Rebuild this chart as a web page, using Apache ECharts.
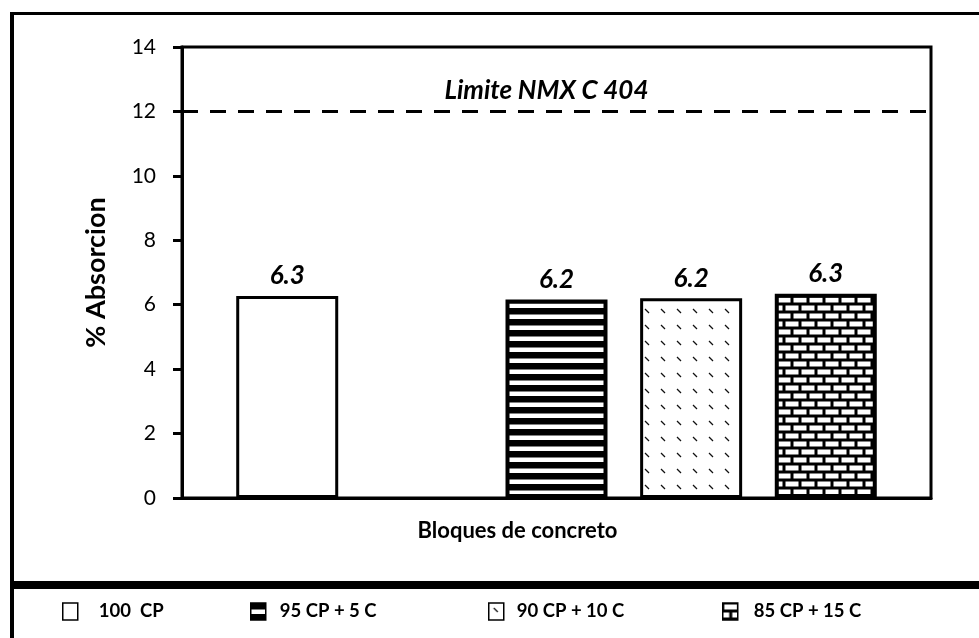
<!DOCTYPE html>
<html>
<head>
<meta charset="utf-8">
<script src="https://cdn.jsdelivr.net/npm/echarts@6/dist/echarts.min.js"></script>
<style>
html,body{margin:0;padding:0;background:#fff;}
#chart{width:979px;height:638px;}
</style>
</head>
<body>
<div id="chart"></div>
<script>
// ---- data ----
const categories = ['Bloques de concreto'];
const seriesNames = ['100  CP', 'vacío', '95 CP + 5 C', '90 CP + 10 C', '85 CP + 15 C'];
const legendNames = ['100  CP', '95 CP + 5 C', '90 CP + 10 C', '85 CP + 15 C'];
const valuesCP100 = [6.27];
const valuesEmpty = [null];
const valuesCP95 = [6.16];
const valuesCP90 = [6.2];
const valuesCP85 = [6.34];
const limitValue = 12;
const limitLabel = 'Limite NMX C 404';
const yMin = 0, yMax = 14, yInterval = 2;
const yAxisName = '% Absorcion';
const xAxisName = 'Bloques de concreto';

// ---- patterns ----
function makeCanvas(w, h, draw) {
  const c = document.createElement('canvas');
  c.width = w; c.height = h;
  draw(c.getContext('2d'));
  return c;
}
const stripes = makeCanvas(8, 11, g => {
  g.fillStyle = '#000'; g.fillRect(0, 0, 8, 11);
  g.fillStyle = '#fff'; g.fillRect(0, 6.5, 8, 4.5);
});
const dots = makeCanvas(16, 16, g => {
  g.fillStyle = '#fff'; g.fillRect(0, 0, 16, 16);
  g.strokeStyle = '#111'; g.lineWidth = 1.3;
  g.beginPath(); g.moveTo(5, 5); g.lineTo(9, 9); g.stroke();
});
const bricks = makeCanvas(16, 16, g => {
  g.fillStyle = '#000'; g.fillRect(0, 0, 16, 16);
  g.fillStyle = '#fff';
  g.fillRect(1.5, 1.5, 13, 5);
  g.fillRect(-6.5, 9.5, 13, 5);
  g.fillRect(9.5, 9.5, 13, 5);
});

const FONT = 'Lato';
const labelStyle = {
  show: true, position: 'top', distance: 7,
  formatter: p => (p.value == null ? '' : p.value.toFixed(1)),
  fontFamily: FONT, fontWeight: 'bold', fontStyle: 'italic', fontSize: 26, color: '#000'
};
function barSeries(name, data, fill, bw) {
  return {
    type: 'bar', name: name, data: data,
    barWidth: 102, barGap: '32%',
    itemStyle: { color: fill, borderColor: '#000', borderWidth: bw },
    label: labelStyle,
    emphasis: { disabled: true }
  };
}

const s1 = barSeries(seriesNames[0], valuesCP100, '#fff', 3);
s1.markLine = {
  silent: true, symbol: 'none',
  lineStyle: { color: '#000', width: 3, type: [16, 12] },
  label: {
    formatter: limitLabel, position: 'insideMiddleTop', distance: 8,
    padding: [0, 20, 0, 0],
    fontFamily: FONT, fontWeight: 'bold', fontStyle: 'italic', fontSize: 26, color: '#000'
  },
  data: [{ yAxis: limitValue }]
};
const s2 = barSeries(seriesNames[1], valuesEmpty, '#fff', 3);
const s3 = barSeries(seriesNames[2], valuesCP95, { image: stripes, repeat: 'repeat' }, 4);
const s4 = barSeries(seriesNames[3], valuesCP90, { image: dots, repeat: 'repeat' }, 3);
const s5 = barSeries(seriesNames[4], valuesCP85, { image: bricks, repeat: 'repeat' }, 4);

const legendLefts = [62, 250, 488, 722];
const legendPads = [16, 9, 8, 11];
const legends = legendNames.map((n, i) => ({
  data: [n], left: legendLefts[i], top: 602, orient: 'horizontal', padding: 0,
  icon: 'rect', itemWidth: 15, itemHeight: 17, selectedMode: false,
  itemStyle: { borderWidth: 1.5, borderColor: '#000' },
  textStyle: { fontFamily: FONT, fontWeight: 'bold', fontSize: 18.5, color: '#000', padding: [0, 0, 0, legendPads[i]] }
}));

const chart = echarts.init(document.getElementById('chart'), null, { renderer: 'canvas' });
chart.setOption({
  animation: false,
  backgroundColor: '#fff',
  textStyle: { fontFamily: FONT },
  grid: { left: 182, right: 48, top: 47, bottom: 140, show: true, borderColor: '#000', borderWidth: 3, backgroundColor: 'transparent' },
  legend: legends,
  xAxis: {
    type: 'category', data: categories,
    name: xAxisName, nameLocation: 'middle', nameGap: 22,
    nameTextStyle: { fontFamily: FONT, fontWeight: 'bold', fontSize: 22, color: '#000', padding: [0, 78, 0, 0] },
    axisLine: { lineStyle: { color: '#000', width: 3 } },
    axisTick: { show: false }, axisLabel: { show: false }
  },
  yAxis: {
    type: 'value', min: yMin, max: yMax, interval: yInterval,
    name: yAxisName, nameLocation: 'middle', nameGap: 72,
    nameTextStyle: { fontFamily: FONT, fontWeight: 'bold', fontSize: 27, color: '#000' },
    axisLine: { show: true, lineStyle: { color: '#000', width: 3 } },
    axisTick: { show: true, length: 9, lineStyle: { color: '#000', width: 3 } },
    axisLabel: { fontFamily: FONT, fontSize: 21, color: '#000', margin: 26 },
    splitLine: { show: false }
  },
  graphic: [
    { type: 'rect', shape: { x: 10, y: 12, width: 4, height: 626 }, style: { fill: '#000' }, silent: true },
    { type: 'rect', shape: { x: 10, y: 12, width: 969, height: 3 }, style: { fill: '#000' }, silent: true },
    { type: 'rect', shape: { x: 10, y: 581, width: 969, height: 8 }, style: { fill: '#000' }, silent: true }
  ],
  series: [s1, s2, s3, s4, s5]
});
</script>
</body>
</html>
